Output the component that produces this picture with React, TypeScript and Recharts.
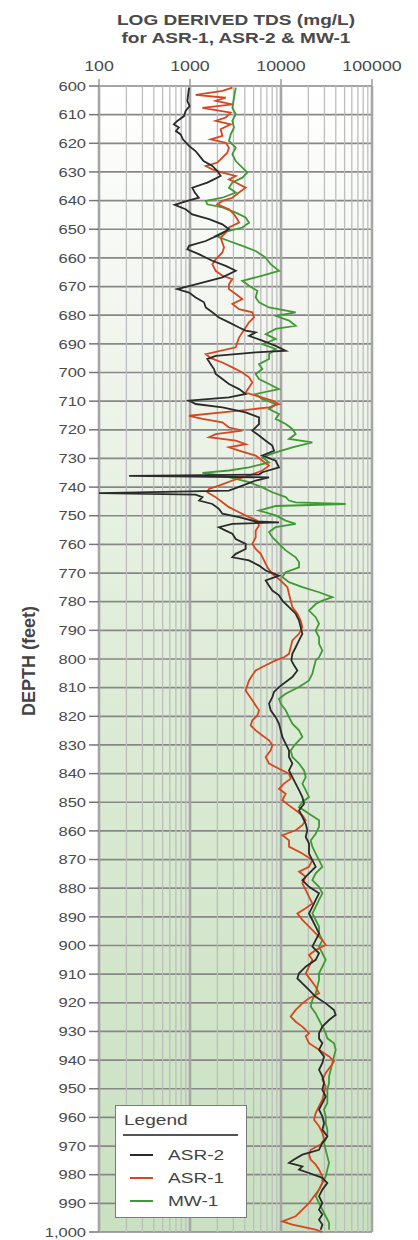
import React from "react";
import {
  LineChart,
  Line,
  XAxis,
  YAxis,
  CartesianGrid,
  ReferenceLine,
  Legend
} from "recharts";

// tick values
const tdsTicks = [100, 1000, 10000, 100000];
const tdsMinor = [200, 300, 400, 500, 600, 700, 800, 900, 2000, 3000, 4000, 5000, 6000, 7000, 8000, 9000, 20000, 30000, 40000, 50000, 60000, 70000, 80000, 90000];
const depthTicks = [600, 610, 620, 630, 640, 650, 660, 670, 680, 690, 700, 710, 720, 730, 740, 750, 760, 770, 780, 790, 800, 810, 820, 830, 840, 850, 860, 870, 880, 890, 900, 910, 920, 930, 940, 950, 960, 970, 980, 990, 1000];
const legendOrder = ["ASR-2", "ASR-1", "MW-1"];

// [depth ft, TDS mg/L]
const asr2: [number, number][] = [
  [600.6, 975], [602.9, 955], [605.2, 935], [607, 990], [608.7, 895], [610.5, 860], [612.2, 725], [613.4, 665], [614.5, 755], [615.7, 700],
  [616.9, 790], [618.6, 835], [620.9, 975], [622.7, 1150], [624.4, 1270], [626.2, 1410], [627.9, 1760], [629.7, 2000], [631.4, 2170], [632.6, 1830],
  [633.7, 1550], [635.5, 1060], [637.2, 1130], [639, 1250], [640.3, 895], [641.5, 680], [643, 895], [644.8, 1060], [646.5, 1620], [648.3, 2270],
  [650, 2680], [651.7, 2170], [654.1, 1490], [655.8, 975], [657, 935], [658.7, 1250], [661, 1760], [662.8, 2470], [664.5, 3180], [666.8, 2270],
  [669.2, 1155], [670.9, 725], [672.1, 975], [673.8, 1155], [675.5, 1425], [677.3, 1490], [679, 1760], [680.8, 2080], [682.5, 2680], [684.3, 3460],
  [685.4, 4090], [686, 5270], [687.2, 4450], [688.9, 6240], [690.7, 8740], [692.4, 11260], [693, 5270], [694.2, 1915], [695.3, 1550], [697.1, 1690],
  [698.8, 1835], [700.5, 1915], [702.3, 2270], [704, 2680], [705.8, 3460], [707.5, 4090], [708.7, 2680], [709.8, 975], [711, 1155], [712.2, 2270],
  [713.9, 4090], [715.7, 5730], [718, 5730], [720.3, 4840], [722, 5730], [723.8, 6790], [725.5, 8030], [727.3, 8380], [729, 6240], [730.8, 8740],
  [733.1, 9510], [734.8, 6240], [735.6, 5730], [736.1, 214], [736.6, 7390], [737.7, 5270], [739.5, 3760], [741.2, 2680], [742.1, 100], [742.6, 1155],
  [743.5, 1370], [744.7, 1260], [745.9, 1760], [747.6, 2080], [749.3, 2270], [750.5, 3460], [752, 5270], [752.3, 9510], [752.8, 2920], [754, 2080],
  [755.2, 2470], [756.3, 2920], [758.1, 3180], [759.8, 4090], [761.6, 4090], [763.3, 3180], [764.5, 2920], [765.6, 4450], [767.4, 5730], [769.1, 6790],
  [770.9, 9510], [772.6, 6790], [774.4, 7390], [776.1, 8030], [777.8, 9510], [779.6, 10350], [781.9, 12250], [784.2, 14500], [786.6, 15780], [788.9, 16460],
  [791.2, 17170], [793.5, 15780], [795.9, 14500], [798.2, 13330], [800.5, 13000], [802.2, 13900], [804, 15130], [806.3, 13330], [808, 11260], [809.8, 9510],
  [811.5, 8380], [813.3, 8030], [815.6, 7390], [817.9, 7700], [820.3, 8740], [822.6, 9510], [824.9, 9920], [827.2, 10350], [829.6, 11260], [831.9, 12250],
  [834.2, 12250], [836.5, 13330], [838.9, 12250], [841.2, 13330], [843.5, 14500], [845.8, 15780], [848.2, 17170], [850.5, 17910], [852.8, 15780], [855.1, 17170],
  [857.5, 18680], [859.8, 19480], [862.1, 18680], [864.4, 20320], [867.9, 20320], [870.2, 22110], [872.5, 24060], [874.8, 20320], [877.2, 17170], [879.5, 20320],
  [881.8, 26180], [884.1, 24060], [886.5, 22110], [888.8, 20320], [891.1, 22110], [893.4, 24060], [895.8, 26180], [898.1, 24060], [900.4, 22110], [902.7, 26180],
  [905, 24060], [907.4, 18680], [909.7, 15780], [911.5, 15130], [913.2, 17170], [915.5, 20320], [917.9, 24060], [920.2, 30990], [922.5, 38240], [924.2, 39920],
  [926, 33720], [928.3, 28480], [930.6, 26180], [932.5, 26180], [934.1, 28480], [936.4, 26180], [938.7, 29700], [941, 28480], [943.4, 26180], [945.7, 28480],
  [948, 29700], [950.3, 28480], [952.7, 30990], [955, 28480], [957.3, 26180], [959.6, 28480], [962, 29700], [964.3, 28480], [966.6, 32300], [968.9, 28480],
  [971.3, 26180], [973, 17170], [974.7, 13900], [975.9, 12250], [977.1, 17170], [978.2, 15780], [979.4, 20320], [981.1, 28480], [982.9, 32300], [985.2, 28480],
  [987.5, 26180], [989.9, 28480], [992.2, 26180], [993.9, 28480], [995.7, 26180], [997.4, 28480], [999.2, 27300]
];

const asr1: [number, number][] = [
  [600.6, 2920], [601.7, 2270], [603.1, 1155], [604.1, 2470], [605.2, 1915], [606.4, 2920], [607.6, 1370], [609.3, 2800], [611, 2470], [612.2, 1915],
  [613.4, 2800], [615.1, 2170], [617.4, 2270], [618.6, 1690], [619.8, 2470], [621.5, 2680], [623.3, 2570], [625, 2270], [626.7, 2000], [627.9, 1490],
  [629.1, 1760], [630.2, 2270], [631.4, 3180], [632.6, 2680], [633.7, 3180], [635.5, 4090], [637.2, 3460], [639, 2920], [640.1, 2270], [641.3, 2000],
  [643, 2680], [644.8, 3045], [646.5, 3310], [647.7, 3460], [649.4, 2680], [651.2, 2470], [652.9, 2170], [654.7, 2270], [656.4, 2365], [658.1, 2270],
  [660.5, 1915], [662.2, 1760], [664.5, 1915], [666.2, 2270], [667.4, 2920], [669.2, 2680], [670.9, 2680], [672.6, 3180], [674.4, 3760], [676.1, 2920],
  [677.9, 3460], [679, 4840], [680.8, 5050], [682.5, 4450], [684.3, 4090], [686, 3760], [687.8, 3460], [689.5, 3310], [691.2, 3180], [693.6, 1490],
  [695, 1690], [696.5, 2270], [698.2, 2920], [700, 3760], [701.7, 4450], [703.5, 4840], [705.2, 4450], [707, 4090], [708.1, 5270], [709.8, 8030],
  [711, 9510], [712.2, 7390], [713.9, 2270], [715.1, 975], [716.2, 1370], [717.4, 2270], [719.2, 2680], [720.3, 3760], [721.5, 1915], [722.6, 1620],
  [723.8, 3180], [725, 4090], [726.1, 2680], [727.3, 3460], [729, 5270], [730.8, 6240], [732.5, 7390], [734.2, 6240], [736, 4450], [737.7, 2920],
  [739.5, 2080], [740.6, 1620], [741.8, 1550], [743.5, 1915], [745.3, 2270], [747, 2680], [748.8, 3460], [750.5, 4450], [751.7, 5500], [753.4, 5730],
  [755.2, 5270], [757.5, 5270], [759.8, 4840], [761.6, 5270], [763.3, 5980], [765.6, 6510], [768, 7080], [770.3, 8030], [772.6, 9920], [774.9, 11750],
  [777.3, 12250], [779.6, 12780], [781.9, 13330], [784.2, 15130], [786.6, 16460], [788.9, 17170], [791.2, 15780], [793.5, 13330], [795.9, 12780], [798.2, 12250],
  [799.4, 10800], [800.5, 8740], [802.2, 6790], [804, 5270], [805.7, 4840], [807.5, 4450], [809.2, 4270], [811, 4090], [812.7, 4450], [814.4, 4840],
  [816.2, 5270], [817.9, 5730], [819.7, 5500], [821.4, 4840], [823.2, 4645], [824.9, 5270], [826.7, 6240], [828.4, 7390], [830.1, 8030], [831.9, 7700],
  [834.2, 6790], [836.5, 7390], [838.3, 9510], [840, 12250], [841.8, 12780], [843.5, 10800], [845.3, 9510], [847, 11260], [849.3, 10350], [851.1, 12250],
  [852.8, 14500], [854.6, 17170], [856.3, 18680], [858, 17170], [859.8, 14500], [861.5, 10350], [863.3, 12250], [865.5, 12250], [867.9, 17170], [870.2, 22110],
  [872.5, 20320], [874.2, 15780], [876, 18680], [878.3, 17170], [880.6, 18680], [883, 20320], [885.3, 22110], [887, 18680], [888.8, 15130], [891.1, 17170],
  [893.4, 20320], [895.8, 24060], [898.1, 28480], [899.8, 30990], [901.6, 24060], [903.3, 20320], [905, 22110], [907.4, 20320], [909.7, 18680], [912, 21200],
  [914.4, 24060], [916.7, 26180], [918.4, 20320], [920.2, 17170], [922.5, 14500], [924.8, 12780], [926.6, 14500], [928.3, 17170], [930.6, 20320], [931.7, 18680],
  [934.1, 20320], [936.4, 26180], [938.7, 33720], [940.4, 38240], [942.2, 35150], [944.5, 30990], [946.8, 28480], [949.2, 30990], [951.5, 29700], [953.8, 28480],
  [956.1, 26180], [958.5, 24060], [960.8, 23060], [963.1, 26180], [965.4, 28480], [967.8, 29700], [969.5, 27300], [971.3, 21200], [973, 20320], [974.7, 21200],
  [976.5, 24060], [978.2, 26180], [980.6, 28480], [982.9, 28480], [985.2, 26180], [987.5, 23060], [989.9, 20320], [992.2, 17170], [994.5, 14500], [996.3, 10350],
  [997.4, 13330], [999.2, 24060], [1000, 28480]
];

const mw1: [number, number][] = [
  [600.6, 3180], [604.1, 3045], [607.6, 2920], [609.9, 3180], [612.2, 2920], [614.5, 3045], [616.9, 2800], [619.2, 2680], [621.5, 3180], [623.8, 2920],
  [626.2, 3180], [628.5, 3760], [630.2, 4270], [632, 3760], [633.7, 2920], [635.5, 2680], [637.2, 3180], [639, 2270], [640.1, 1490], [641.3, 1550],
  [642.4, 2270], [644.2, 3180], [645.9, 4090], [647.7, 4450], [649.4, 3760], [651.2, 2270], [652.3, 1915], [654.1, 2680], [655.8, 3760], [657.6, 5270],
  [659.9, 6790], [662.2, 7700], [664.5, 9510], [666.2, 6240], [668, 3760], [669.7, 4450], [671.5, 5500], [673.8, 5270], [675.5, 5730], [677.3, 7390],
  [679, 14500], [680.2, 8740], [681.9, 12250], [683.7, 14500], [684.8, 8740], [686.6, 6790], [688.3, 8740], [690.1, 6240], [691.8, 8740], [693.6, 7390],
  [695.3, 7390], [697.1, 5730], [698.8, 6240], [700.5, 5270], [702.3, 5730], [704, 7390], [705.8, 9510], [707.5, 5270], [709.3, 6240], [711, 8740],
  [712.8, 7390], [714.5, 9510], [716.2, 8740], [718, 11260], [719.7, 13330], [721.5, 14500], [723.2, 12250], [724.4, 22110], [726.1, 13330], [727.9, 8740],
  [729.6, 6240], [731.4, 7390], [733.1, 4450], [734.2, 2680], [735, 1370], [736, 2270], [737.1, 3180], [738.3, 4450], [740.1, 6240], [741.8, 8030],
  [743.5, 11260], [744.7, 12250], [745.3, 14500], [745.9, 51400], [746.6, 8740], [748.2, 5730], [749.9, 8740], [751.7, 11260], [752.8, 14500], [754, 8740],
  [755.7, 7390], [757.5, 8030], [759.8, 9510], [762.1, 11260], [764.5, 14500], [766.2, 15780], [768, 15780], [769.7, 11260], [771.4, 10350], [773.2, 12250],
  [774.9, 17170], [776.7, 26180], [778.4, 36690], [779.6, 28480], [780.8, 24060], [783.1, 20320], [785.4, 24060], [787.7, 26180], [790.1, 24060], [792.4, 26180],
  [794.7, 26180], [797, 28480], [799.4, 26180], [800.5, 24060], [802.8, 23060], [805.1, 22110], [807.5, 20320], [809.8, 15780], [812.1, 11260], [813.9, 9510],
  [815.6, 9920], [817.9, 11260], [820.3, 12250], [822.6, 13330], [824.9, 15780], [827.2, 17170], [829.6, 14500], [831.9, 12780], [834.2, 13330], [836.5, 15780],
  [838.9, 17910], [841.2, 18680], [843.5, 17170], [845.8, 18680], [848.2, 20320], [849.9, 17170], [851.7, 15780], [854, 20320], [856.3, 26180], [858.6, 26180],
  [861, 24060], [863.3, 21200], [865.5, 22110], [867.9, 24060], [870.2, 26180], [872.5, 28480], [874.8, 24060], [877.2, 22110], [879.5, 26180], [881.8, 28480],
  [884.1, 26180], [886.5, 24060], [888.8, 22110], [891.1, 24060], [893.4, 26180], [895.8, 26180], [898.1, 28480], [900.4, 26180], [902.7, 28480], [905, 30990],
  [907.4, 28480], [909.7, 26180], [912, 26180], [914.4, 25090], [916.7, 24060], [919, 22110], [921.3, 21200], [923.7, 24060], [926, 26180], [928.3, 28480],
  [930.6, 30990], [932.4, 32300], [934.1, 38240], [936.4, 39920], [938.7, 38240], [941, 36690], [943.4, 35150], [945.7, 33720], [948, 33720], [950.3, 32300],
  [952.7, 32300], [955, 32300], [957.3, 29700], [959.6, 30990], [962, 30990], [964.3, 32300], [966.6, 32300], [968.9, 29700], [971.3, 30990], [973.6, 32300],
  [975.9, 33720], [978.2, 32300], [980.6, 30990], [982.9, 28480], [985.2, 26180], [987.5, 24060], [989.9, 26180], [992.2, 28480], [994.5, 30990], [996.8, 33720],
  [999.2, 33720]
];

const FONT = '"Liberation Sans", Arial, sans-serif';
const STRETCH = 1.27; // the scanned figure is stretched sideways

const toPoints = (pts: [number, number][]) => pts.map(([depth, tds]) => ({ depth, tds }));

const formatDepth = (v: number) => (v >= 1000 ? v.toLocaleString("en-US") : String(v));

const TdsTick = (props: any) => {
  const { x, y, payload } = props;
  return (
    <text
      x={x}
      y={y - 6}
      textAnchor="middle"
      fontSize={14}
      fill="#4a4a4a"
      fontFamily={FONT}
      transform={`translate(${x} 0) scale(${STRETCH} 1) translate(${-x} 0)`}
    >
      {payload.value}
    </text>
  );
};

const DepthTick = (props: any) => {
  const { x, y, payload } = props;
  return (
    <text
      x={x}
      y={y + 4.7}
      textAnchor="end"
      fontSize={13}
      fill="#4a4a4a"
      fontFamily={FONT}
      transform={`translate(${x} 0) scale(${STRETCH} 1) translate(${-x} 0)`}
    >
      {formatDepth(payload.value)}
    </text>
  );
};

const DepthLabel = (props: any) => {
  const { viewBox } = props;
  const cx = viewBox.x - 10;
  const cy = viewBox.y + viewBox.height / 2 + 2;
  return (
    <text
      x={cx}
      y={cy}
      textAnchor="middle"
      dominantBaseline="central"
      fontSize={18}
      fontWeight="bold"
      fill="#444"
      fontFamily={FONT}
      transform={`rotate(-90 ${cx} ${cy})`}
    >
      DEPTH (feet)
    </text>
  );
};

const renderLegend = (props: any) => {
  const payload = props.payload || [];
  const items = legendOrder
    .map(name => payload.find((p: any) => p.value === name))
    .filter(Boolean);
  return (
    <div
      style={{
        position: "relative",
        width: 132,
        height: 113,
        boxSizing: "border-box",
        background: "#fff",
        border: "1px solid #7a7a7a",
        fontFamily: FONT,
        color: "#444"
      }}
    >
      <div
        style={{
          position: "absolute",
          left: 8,
          top: 5,
          fontSize: 15,
          lineHeight: "18px",
          transform: `scaleX(${STRETCH})`,
          transformOrigin: "left center"
        }}
      >
        Legend
      </div>
      <div style={{ position: "absolute", left: 7, top: 28, width: 115, height: 2, background: "#555" }} />
      {items.map((item: any, i: number) => (
        <div key={item.value} style={{ position: "absolute", left: 0, top: 40 + i * 23, height: 18, width: 130 }}>
          <div style={{ position: "absolute", left: 14, top: 8, width: 23, height: 2, background: item.color }} />
          <div
            style={{
              position: "absolute",
              left: 52,
              top: 0,
              fontSize: 15,
              lineHeight: "18px",
              whiteSpace: "nowrap",
              transform: `scaleX(${STRETCH})`,
              transformOrigin: "left center"
            }}
          >
            {item.value}
          </div>
        </div>
      ))}
    </div>
  );
};

export default function App() {
  return (
    <div style={{ position: "relative", width: 418, height: 1240, background: "#fff", fontFamily: FONT }}>
      <style>{"body{margin:0}"}</style>
      <LineChart
        layout="vertical"
        width={418}
        height={1240}
        margin={{ top: 66, right: 46, left: 39, bottom: 8 }}
      >
        <defs>
          <linearGradient id="tdsBg" x1="0" y1="0" x2="0" y2="1">
            <stop offset="0%" stopColor="#ffffff" />
            <stop offset="20%" stopColor="#f2f6ef" />
            <stop offset="55%" stopColor="#dcebd5" />
            <stop offset="100%" stopColor="#c9e1c0" />
          </linearGradient>
        </defs>
        <CartesianGrid
          horizontal
          vertical={false}
          stroke="#878787"
          strokeWidth={1.7}
          fill="url(#tdsBg)"
          fillOpacity={1}
        />
        {tdsMinor.map(v => (
          <ReferenceLine key={v} x={v} stroke="#bdbdbd" strokeWidth={1.3} />
        ))}
        {tdsTicks.map(v => (
          <ReferenceLine key={v} x={v} stroke="#a6a6a6" strokeWidth={2.6} />
        ))}
        <XAxis
          type="number"
          scale="log"
          domain={[100, 100000]}
          allowDataOverflow
          orientation="top"
          ticks={tdsTicks}
          interval={0}
          height={20}
          axisLine={false}
          tickLine={{ stroke: "#9a9a9a", strokeWidth: 1.5 }}
          tickSize={7}
          tickMargin={2}
          tick={<TdsTick />}
        />
        <YAxis
          type="number"
          dataKey="depth"
          domain={[600, 1000]}
          ticks={depthTicks}
          interval={0}
          width={60}
          axisLine={false}
          tickLine={{ stroke: "#777", strokeWidth: 1.5 }}
          tickSize={10}
          tickMargin={3}
          tick={<DepthTick />}
          label={<DepthLabel />}
        />
        <Line
          data={toPoints(mw1)}
          dataKey="tds"
          name="MW-1"
          stroke="#3f9a35"
          strokeWidth={1.8}
          dot={false}
          isAnimationActive={false}
        />
        <Line
          data={toPoints(asr1)}
          dataKey="tds"
          name="ASR-1"
          stroke="#d8461f"
          strokeWidth={1.8}
          dot={false}
          isAnimationActive={false}
        />
        <Line
          data={toPoints(asr2)}
          dataKey="tds"
          name="ASR-2"
          stroke="#2a2a2a"
          strokeWidth={1.8}
          dot={false}
          isAnimationActive={false}
        />
        <Legend
          layout="vertical"
          align="center"
          verticalAlign="middle"
          content={renderLegend}
          wrapperStyle={{ left: 115, top: 1105, width: 132, height: 113 }}
        />
      </LineChart>
      <div
        style={{
          position: "absolute",
          left: 236,
          top: 11,
          transform: `translateX(-50%) scaleX(${STRETCH})`,
          whiteSpace: "nowrap",
          textAlign: "center",
          fontSize: 15,
          lineHeight: "18px",
          fontWeight: "bold",
          color: "#4a4a4a",
          pointerEvents: "none"
        }}
      >
        <div>LOG DERIVED TDS (mg/L)</div>
        <div>for ASR-1, ASR-2 &amp; MW-1</div>
      </div>
    </div>
  );
}
